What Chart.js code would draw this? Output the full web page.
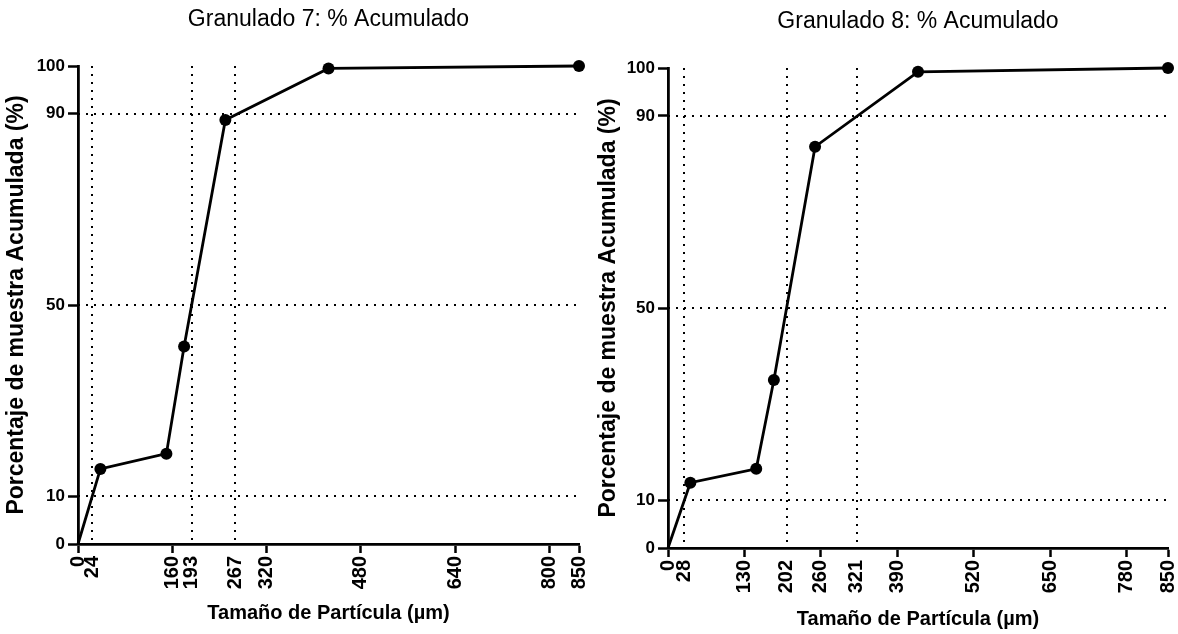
<!DOCTYPE html>
<html>
<head>
<meta charset="utf-8">
<script src="https://cdn.jsdelivr.net/npm/chart.js@4"></script>
<style>
  body { margin: 0; background: #fff; }
  canvas { position: absolute; top: 0; }
</style>
</head>
<body>
<canvas id="g7" width="590" height="634" style="left:0"></canvas>
<canvas id="g8" width="588" height="634" style="left:590px"></canvas>
<script>
// sieve sizes (µm) and cumulative % passing
const sizes = [0, 38, 150, 180, 250, 425, 850];
const g7Cum = [0, 15.7, 18.9, 41.3, 88.7, 99.5, 100];
const g8Cum = [0, 13.6, 16.5, 35.0, 83.6, 99.2, 100];

// x tick labels, with D10 / D50 / D90 marked
const g7Ticks = [0, 24, 160, 193, 267, 320, 480, 640, 800, 850];
const g8Ticks = [0, 28, 130, 202, 260, 321, 390, 520, 650, 780, 850];
const g7Ref = [24, 193, 267];
const g8Ref = [28, 202, 321];

const yTicks = [0, 10, 50, 90, 100];
const yRef = [10, 50, 90];

const FONT = "'Liberation Sans', Arial, sans-serif";
Chart.defaults.color = '#000';
Chart.defaults.font.family = FONT;

// dotted reference lines
const refLines = {
  id: 'refLines',
  beforeDatasetsDraw(chart, args, opts) {
    const { ctx, chartArea: a, scales: { x, y } } = chart;
    ctx.save();
    ctx.strokeStyle = '#000';
    ctx.lineWidth = 2;
    ctx.setLineDash([2, 6]);
    ctx.beginPath();
    opts.xs.forEach(v => {
      const px = Math.round(x.getPixelForValue(v));
      ctx.moveTo(px, a.top);
      ctx.lineTo(px, a.bottom);
    });
    opts.ys.forEach(v => {
      const py = Math.round(y.getPixelForValue(v));
      ctx.moveTo(a.left, py);
      ctx.lineTo(a.right, py);
    });
    ctx.stroke();
    ctx.restore();
  }
};

// title centred over the plot area
const plotTitle = {
  id: 'plotTitle',
  afterDraw(chart, args, opts) {
    const { ctx, chartArea: a } = chart;
    ctx.save();
    ctx.font = '23px ' + FONT;
    ctx.fillStyle = '#000';
    ctx.textAlign = 'center';
    ctx.textBaseline = 'middle';
    ctx.fillText(opts.text, (a.left + a.right) / 2, opts.y);
    ctx.restore();
  }
};

function makeChart(id, cum, xTicks, xRef, title, lay) {
  return new Chart(document.getElementById(id), {
    type: 'line',
    data: {
      datasets: [{
        data: sizes.map((x, i) => ({ x: x, y: cum[i] })),
        borderColor: '#000',
        borderWidth: 2.8,
        pointRadius: c => c.dataIndex === 0 ? 0 : 6,
        pointBackgroundColor: '#000',
        pointBorderWidth: 0,
        pointHoverRadius: 6,
        tension: 0,
        clip: false
      }]
    },
    options: {
      responsive: false,
      animation: false,
      events: [],
      layout: { padding: { top: lay.top, right: lay.right, left: 0, bottom: 0 } },
      plugins: {
        legend: { display: false },
        tooltip: { enabled: false },
        refLines: { xs: xRef, ys: yRef },
        plotTitle: { text: title, y: lay.titleY }
      },
      scales: {
        x: {
          type: 'linear',
          min: 0,
          max: 850,
          afterBuildTicks: s => { s.ticks = xTicks.map(v => ({ value: v })); },
          afterFit: s => { s.height = lay.xHeight; s.paddingLeft = 0; s.paddingRight = 0; },
          ticks: {
            autoSkip: false,
            minRotation: 90,
            maxRotation: 90,
            padding: 3,
            font: { size: 20, weight: 'bold' },
            callback: v => String(v)
          },
          grid: {
            drawOnChartArea: false,
            tickLength: 9,
            tickWidth: 2.5,
            color: c => (c.tick && xRef.includes(c.tick.value)) ? 'rgba(0,0,0,0)' : '#000'
          },
          border: { color: '#000', width: 2.8 },
          title: {
            display: true,
            text: 'Tamaño de Partícula (µm)',
            font: { size: 20, weight: 'bold' },
            padding: { top: 0, bottom: lay.xTitlePad }
          }
        },
        y: {
          min: 0,
          max: 100,
          afterBuildTicks: s => { s.ticks = yTicks.map(v => ({ value: v })); },
          afterFit: s => { s.width = lay.yWidth; s.paddingTop = 0; s.paddingBottom = 0; },
          ticks: { padding: 3, font: { size: 17, weight: 'bold' } },
          grid: { drawOnChartArea: false, tickLength: 10, tickWidth: 2.5, color: '#000' },
          border: { color: '#000', width: 2.8 },
          title: {
            display: true,
            text: 'Porcentaje de muestra Acumulada (%)',
            font: { size: 23, weight: 'bold' },
            padding: { top: lay.yTitlePad, bottom: 0 }
          }
        }
      }
    },
    plugins: [refLines, plotTitle]
  });
}

makeChart('g7', g7Cum, g7Ticks, g7Ref, 'Granulado 7: % Acumulado',
  { top: 66, right: 11, yWidth: 78, xHeight: 90, yTitlePad: 3, xTitlePad: 9, titleY: 20 });
makeChart('g8', g8Cum, g8Ticks, g8Ref, 'Granulado 8: % Acumulado',
  { top: 68, right: 10, yWidth: 78, xHeight: 86, yTitlePad: 5, xTitlePad: 3, titleY: 22 });
</script>
</body>
</html>
